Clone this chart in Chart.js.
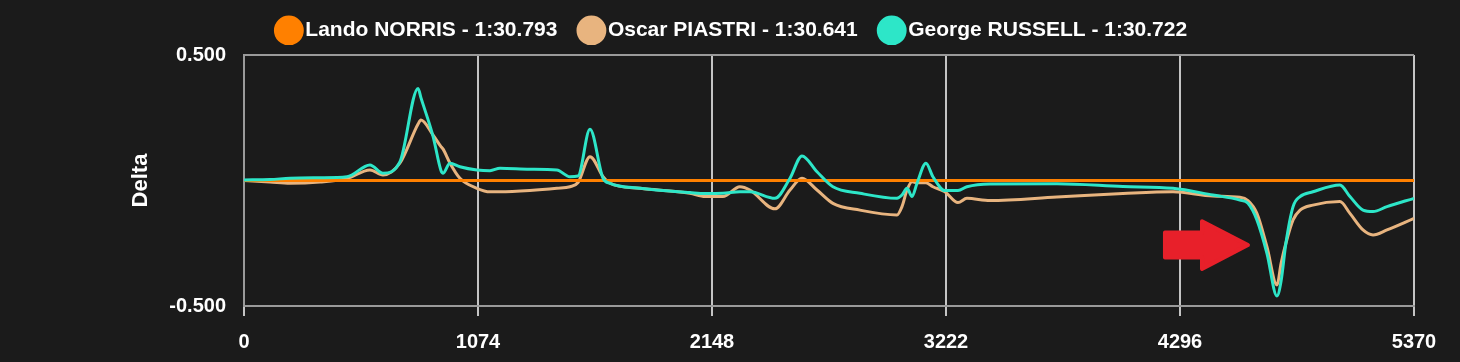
<!DOCTYPE html>
<html>
<head>
<meta charset="utf-8">
<script src="https://cdn.jsdelivr.net/npm/chart.js@4.4.1/dist/chart.umd.min.js"></script>
<style>
    html, body { margin: 0; padding: 0; background: #1b1b1b; }
    #wrap { width: 1460px; height: 362px; }
</style>
</head>
<body>
<div id="wrap"><canvas id="chart"></canvas></div>
<script>
// distance along the lap (m)
const distances = [0, 119, 211, 349, 473, 578, 638, 716, 799, 812, 868, 904, 914, 945, 991, 1069, 1129, 1175, 1312, 1436,
    1496, 1533, 1588, 1648, 1680, 1818, 2047, 2116, 2198, 2276, 2322, 2437, 2506, 2561, 2630, 2703, 2827, 2997, 3020, 3043,
    3066, 3089, 3130, 3162, 3217, 3277, 3318, 3424, 3731, 4034, 4264, 4447, 4571, 4608, 4649, 4695, 4741, 4760, 4782, 4815,
    4847, 4906, 5030, 5076, 5136, 5182, 5246, 5370];

// delta to Norris (s)
const russell = [0.002, 0.004, 0.009, 0.011, 0.015, 0.062, 0.029, 0.075, 0.367, 0.330, 0.175, 0.040, 0.029, 0.069, 0.055, 0.042, 0.039, 0.049, 0.045, 0.042,
    0.015, 0.018, 0.204, 0.009, -0.011, -0.031, -0.048, -0.052, -0.051, -0.045, -0.045, -0.071, 0.009, 0.098, 0.035, -0.025, -0.051, -0.071, -0.058, -0.031,
    -0.064, -0.011, 0.069, 0.015, -0.040, -0.040, -0.025, -0.014, -0.013, -0.024, -0.031, -0.058, -0.078, -0.091, -0.157, -0.290, -0.460, -0.400, -0.250, -0.104,
    -0.064, -0.045, -0.018, -0.064, -0.118, -0.124, -0.104, -0.071];

const piastri = [0.000, -0.006, -0.011, -0.006, 0.008, 0.042, 0.022, 0.070, 0.225, 0.241, 0.181, 0.135, 0.125, 0.070, 0.009, -0.031, -0.045, -0.045, -0.040, -0.031,
    -0.025, -0.008, 0.095, 0.015, -0.011, -0.031, -0.051, -0.064, -0.064, -0.025, -0.038, -0.113, -0.038, 0.009, -0.038, -0.091, -0.118, -0.137, -0.104, -0.038,
    -0.005, -0.009, -0.009, -0.025, -0.045, -0.088, -0.071, -0.080, -0.066, -0.052, -0.045, -0.062, -0.067, -0.080, -0.131, -0.264, -0.416, -0.330, -0.250, -0.157,
    -0.118, -0.098, -0.084, -0.131, -0.197, -0.217, -0.197, -0.151];

const norris = [0, 0];
const norrisDist = [0, 5370];

const drivers = ["Lando NORRIS - 1:30.793", "Oscar PIASTRI - 1:30.641", "George RUSSELL - 1:30.722"];
const colors = ["#ff8000", "#e8b47f", "#2de6c8"];

const xTicks = [0, 1074, 2148, 3222, 4296, 5370];
const yTicks = [-0.5, 0.5];

// red arrow pointing at the dip, in data units
const arrow = { tailX: 4227, headX: 4397, tipX: 4608, y: -0.257, body: 0.05, head: 0.095 };

const toPoints = (xs, ys) => xs.map((x, i) => ({ x: x, y: ys[i] }));

const arrowPlugin = {
    id: 'arrow',
    afterDatasetsDraw(chart) {
        const { ctx, scales: { x, y } } = chart;
        const x0 = x.getPixelForValue(arrow.tailX);
        const x1 = x.getPixelForValue(arrow.headX);
        const x2 = x.getPixelForValue(arrow.tipX);
        const yc = y.getPixelForValue(arrow.y);
        const hb = y.getPixelForValue(arrow.y - arrow.body) - yc;
        const hh = y.getPixelForValue(arrow.y - arrow.head) - yc;
        ctx.save();
        ctx.fillStyle = "#e8202a";
        ctx.strokeStyle = "#e8202a";
        ctx.lineJoin = "round";
        ctx.lineWidth = 4;
        ctx.beginPath();
        ctx.moveTo(x0, yc - hb);
        ctx.lineTo(x1, yc - hb);
        ctx.lineTo(x1, yc - hh);
        ctx.lineTo(x2, yc);
        ctx.lineTo(x1, yc + hh);
        ctx.lineTo(x1, yc + hb);
        ctx.lineTo(x0, yc + hb);
        ctx.closePath();
        ctx.fill();
        ctx.stroke();
        ctx.restore();
    }
};

// legend: keep wide spacing between items but pull it up, closer to the plot
const legendSpace = {
    id: 'legendSpace',
    beforeInit(chart) {
        const fit = chart.legend.fit;
        chart.legend.fit = function () {
            fit.bind(chart.legend)();
            this.height -= 6;
        };
    },
    afterLayout(chart) {
        chart.legend.top -= 10;
        chart.legend.bottom -= 10;
    }
};

new Chart(document.getElementById('chart'), {
    type: 'line',
    data: {
        datasets: [
            {
                label: drivers[0],
                data: toPoints(norrisDist, norris),
                borderColor: colors[0],
                backgroundColor: colors[0],
                borderWidth: 3,
                order: 1,
            },
            {
                label: drivers[1],
                data: toPoints(distances, piastri),
                borderColor: colors[1],
                backgroundColor: colors[1],
                borderWidth: 3,
                order: 2,
            },
            {
                label: drivers[2],
                data: toPoints(distances, russell),
                borderColor: colors[2],
                backgroundColor: colors[2],
                borderWidth: 3,
                order: 0,
            },
        ],
    },
    options: {
        responsive: true,
        maintainAspectRatio: false,
        animation: false,
        layout: { padding: { left: 56, right: 46, top: 2, bottom: 0 } },
        elements: {
            point: { radius: 0 },
            line: { cubicInterpolationMode: 'monotone' },
        },
        scales: {
            x: {
                type: 'linear',
                min: 0,
                max: 5370,
                afterBuildTicks: (axis) => { axis.ticks = xTicks.map(v => ({ value: v })); },
                afterFit: (axis) => { axis.height = 56; },
                ticks: {
                    color: '#ffffff',
                    font: { family: 'Liberation Sans, Arial', size: 20, weight: 'bold' },
                    padding: 14,
                    maxRotation: 0,
                    callback: (v) => String(v),
                },
                grid: { color: '#c4c4c4', lineWidth: 2, tickLength: 10 },
                border: { color: '#9a9a9a', width: 2 },
            },
            y: {
                min: -0.5,
                max: 0.5,
                afterBuildTicks: (axis) => { axis.ticks = yTicks.map(v => ({ value: v })); },
                afterFit: (axis) => { axis.width = 188; },
                ticks: {
                    color: '#ffffff',
                    font: { family: 'Liberation Sans, Arial', size: 20, weight: 'bold' },
                    padding: 18,
                    callback: (v) => v.toFixed(3),
                },
                grid: { color: '#9a9a9a', lineWidth: 2, drawTicks: false },
                border: { color: '#9a9a9a', width: 2 },
                title: {
                    display: true,
                    text: 'Delta',
                    color: '#ffffff',
                    font: { family: 'Liberation Sans, Arial', size: 22, weight: 'bold' },
                    padding: { top: 72, bottom: 0 },
                },
            },
        },
        plugins: {
            legend: {
                labels: {
                    color: '#ffffff',
                    font: { family: 'Liberation Sans, Arial', size: 21, weight: 'bold' },
                    usePointStyle: true,
                    pointStyle: 'circle',
                    boxWidth: 12,
                    boxHeight: 19,
                    padding: 28,
                    sort: (a, b) => a.datasetIndex - b.datasetIndex,
                },
            },
            tooltip: { enabled: false },
        },
    },
    plugins: [arrowPlugin, legendSpace],
});
</script>
</body>
</html>
